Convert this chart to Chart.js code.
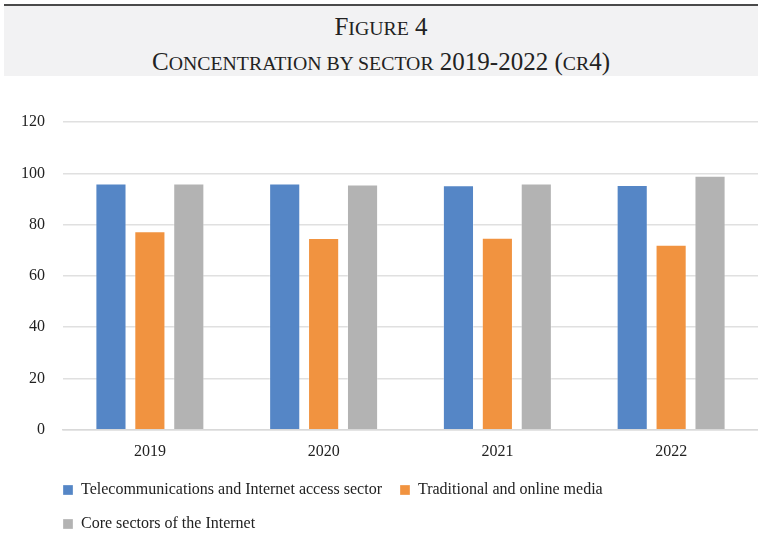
<!DOCTYPE html>
<html lang="en">
<head>
<meta charset="UTF-8">
<title>Figure 4 - Concentration by sector 2019-2022 (CR4)</title>
<script src="https://cdn.jsdelivr.net/npm/chart.js"></script>
<style>
  html, body { margin: 0; padding: 0; background: #fff; }
  body { width: 758px; height: 555px; position: relative; overflow: hidden; }
  .panel {
    position: absolute; left: 4px; top: 4px; width: 754px; height: 70px;
    background: #f2f2f3; border-top: 2px solid #4a4a4a;
    font-family: 'Liberation Serif', 'Times New Roman', serif;
    color: #222; text-align: center;
  }
  .panel div { position: absolute; left: 0; right: 0; font-size: 25px; line-height: 30px; white-space: nowrap; }
  .panel .sc { font-size: 19.8px; text-transform: uppercase; }
  .line1 { top: 6px; }
  .line2 { top: 41px; }
  .chart-box { position: absolute; left: 0; top: 90px; width: 758px; height: 465px; }
</style>
</head>
<body>
<div class="panel">
  <div class="line1">F<span class="sc">igure</span> 4</div>
  <div class="line2">C<span class="sc">oncentration by sector</span> 2019-2022 (<span class="sc">cr</span>4)</div>
</div>
<div class="chart-box"><canvas id="cr4Chart" width="758" height="465"></canvas></div>
<script>
const years = ['2019', '2020', '2021', '2022'];
const telecom = [96.0, 96.0, 95.3, 95.4];
const media = [77.4, 74.8, 74.9, 72.1];
const coreInternet = [96.0, 95.6, 96.0, 99.0];

const serif = "'Liberation Serif', 'Times New Roman', serif";

// nudge the legend so its first box lines up with the plot's left edge
const legendShift = {
  id: 'legendShift',
  afterLayout(chart) {
    const lg = chart.legend;
    lg.left -= 18;
    lg.right -= 18;
    lg.top -= 1;
    lg.bottom -= 1;
  }
};

new Chart(document.getElementById('cr4Chart'), {
  type: 'bar',
  data: {
    labels: years,
    datasets: [
      { label: 'Telecommunications and Internet access sector', data: telecom, backgroundColor: '#5586c6' },
      { label: 'Traditional and online media', data: media, backgroundColor: '#f19340' },
      { label: 'Core sectors of the Internet', data: coreInternet, backgroundColor: '#b3b3b3' }
    ]
  },
  options: {
    responsive: false,
    animation: false,
    devicePixelRatio: 1,
    layout: { padding: { top: 32, left: 3, right: 0, bottom: 12 } },
    datasets: {
      bar: {
        barPercentage: 0.8,
        categoryPercentage: 0.672,
        borderWidth: 1,
        borderColor: 'rgba(255,255,255,0.3)'
      }
    },
    scales: {
      x: {
        grid: { display: false },
        border: { display: true, color: '#d9d9d9', width: 1.5 },
        ticks: { color: '#222', font: { family: serif, size: 16 }, padding: 4 }
      },
      y: {
        min: 0,
        max: 120,
        ticks: { stepSize: 20, color: '#222', font: { family: serif, size: 16 }, padding: 18 },
        grid: { color: '#e0e0e0', lineWidth: 1.5, drawTicks: false },
        border: { display: false }
      }
    },
    plugins: {
      legend: {
        position: 'bottom',
        align: 'start',
        fullSize: false,
        labels: {
          boxWidth: 10,
          boxHeight: 10,
          padding: 18,
          color: '#222',
          font: { family: serif, size: 16 }
        }
      },
      tooltip: { enabled: false }
    }
  },
  plugins: [legendShift]
});
</script>
</body>
</html>
